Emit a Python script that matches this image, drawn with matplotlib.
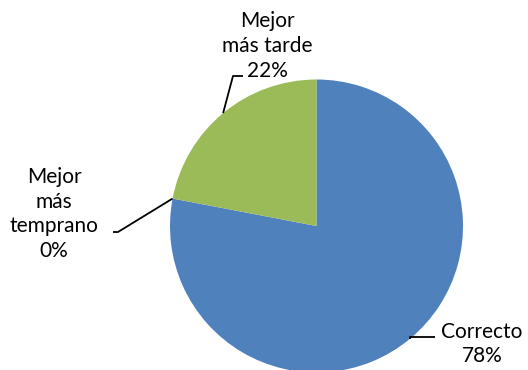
import matplotlib
matplotlib.use('Agg')
import matplotlib.pyplot as plt
import numpy as np

# ================= 数据 =================
labels = ['Correcto', 'Mejor\nmás\ntemprano', 'Mejor\nmás tarde']
values = [78, 0, 22]
colors = ['#4F81BD', '#C0504D', '#9BBB59']

plt.rcParams['font.family'] = ['Lato', 'DejaVu Sans']

W, H = 528, 370
fig = plt.figure(figsize=(W / 100, H / 100), dpi=100)
ax = fig.add_axes([0, 0, 1, 1])

center = (316.5, 144)
radius = 146.5
ax.pie(values, colors=colors, startangle=90, counterclock=False,
       center=center, radius=radius, frame=True,
       wedgeprops=dict(linewidth=0))
ax.set_xlim(0, W)
ax.set_ylim(0, H)
ax.set_aspect('equal')
ax.axis('off')

# 每个扇区的中间角度 -> 引导线起点
total = sum(values)
angles = []
start = 90.0
for v in values:
    sweep = 360.0 * v / total
    angles.append(np.deg2rad(start - sweep / 2))
    start -= sweep

def edge(a):
    return center[0] + radius * np.cos(a), center[1] + radius * np.sin(a)

# (文本位置, 引导线拐点, 引导线终点)
label_pos = [(482, 26), (54, 156), (267, 324)]
elbows = [None, (118, 138), (233, 294)]
ends = [(435, 33), (113, 138), (243, 294)]

for i, (lab, v) in enumerate(zip(labels, values)):
    ex, ey = edge(angles[i])
    pts = [(ex, ey)]
    if elbows[i] is not None:
        pts.append(elbows[i])
    else:
        pts.append((ex, ends[i][1]))
    pts.append(ends[i])
    xs, ys = zip(*pts)
    ax.plot(xs, ys, color='black', linewidth=1.3, solid_capstyle='butt')
    ax.text(label_pos[i][0], label_pos[i][1], f'{lab}\n{v}%', ha='center', va='center',
            fontsize=15, linespacing=1.3, color='black')

plt.savefig('out.png', dpi=100)
